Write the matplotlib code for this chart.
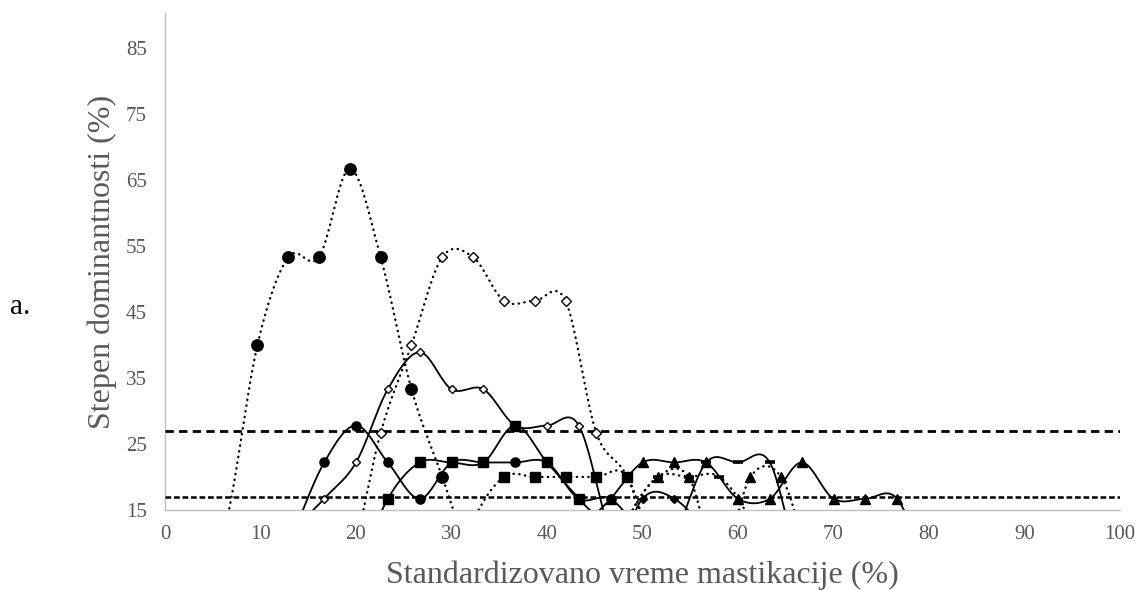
import numpy as np
import matplotlib
matplotlib.use("Agg")
import matplotlib.pyplot as plt

plt.rcParams['font.family'] = ['Liberation Serif', 'DejaVu Serif']

# ---------------- data ----------------
# dotted series (time grid step 100/31)
a_x = [3.23, 6.45, 9.68, 12.90, 16.13, 19.35, 22.58, 25.81, 29.03, 32.26, 35.48]
a_y = [0, 13.3, 40.0, 53.3, 53.3, 66.7, 53.3, 33.3, 20.0, 6.7, 0]

b_x = [16.13, 19.35, 22.58, 25.81, 29.03, 32.26, 35.48, 38.71, 41.94, 45.16, 48.39, 51.61]
b_y = [0, 6.7, 26.7, 40.0, 53.3, 53.3, 46.7, 46.7, 46.7, 26.7, 20.0, 6.7]

f_x = [29.03, 32.26, 35.48, 38.71, 41.94, 45.16, 48.39, 51.61, 54.84]
f_y = [0, 13.3, 20.0, 20.0, 20.0, 20.0, 20.0, 6.7, 0]

h_x = [45.16, 48.39, 51.61, 54.84, 58.06, 61.29, 64.52, 67.74, 70.97]
h_y = [0, 13.3, 20.0, 20.0, 6.7, 20.0, 20.0, 6.7, 0]

j_x = [45.16, 48.39, 51.61, 54.84, 58.06, 61.29, 64.52]
j_y = [0, 13.3, 20.0, 20.0, 20.0, 13.3, 0]

# solid series (time grid step 100/30)
c_x = [10.00, 13.33, 16.67, 20.00, 23.33, 26.67, 30.00, 33.33, 36.67, 40.00, 43.33, 46.67, 50.00]
c_y = [0, 11.1, 16.7, 22.2, 33.3, 38.9, 33.3, 33.3, 27.8, 27.8, 27.8, 11.1, 0]

d_x = [10.00, 13.33, 16.67, 20.00, 23.33, 26.67, 30.00, 33.33, 36.67, 40.00, 43.33, 46.67, 50.00]
d_y = [0, 11.1, 22.2, 27.8, 22.2, 16.7, 22.2, 22.2, 22.2, 22.2, 16.7, 16.7, 11.1]

e_x = [16.67, 20.00, 23.33, 26.67, 30.00, 33.33, 36.67, 40.00, 43.33, 46.67, 50.00]
e_y = [0, 5.6, 16.7, 22.2, 22.2, 22.2, 27.8, 22.2, 16.7, 11.1, 0]

g_x = [40.00, 43.33, 46.67, 50.00, 53.33, 56.67, 60.00, 63.33, 66.67, 70.00, 73.33, 76.67, 80.00, 83.33]
g_y = [0, 11.1, 16.7, 22.2, 22.2, 22.2, 16.7, 16.7, 22.2, 16.7, 16.7, 16.7, 5.6, 0]

i_x = [43.33, 46.67, 50.00, 53.33, 56.67, 60.00]
i_y = [0, 5.6, 16.7, 16.7, 11.1, 0]

k_x = [46.67, 50.00, 53.33, 56.67, 60.00, 63.33, 66.67, 70.00]
k_y = [0, 5.6, 11.1, 22.2, 22.2, 22.2, 5.6, 0]

ref_levels = [27.0, 17.0]

x_ticks = [0, 10, 20, 30, 40, 50, 60, 70, 80, 90, 100]
y_ticks = [15, 25, 35, 45, 55, 65, 75, 85]

x_label = "Standardizovano vreme mastikacije (%)"
y_label = "Stepen dominantnosti (%)"
panel_label = "a."

# ---------------- helpers ----------------
def smooth(xs, ys, n=24):
    p = np.column_stack([xs, ys]).astype(float)
    p = np.vstack([p[0], p, p[-1]])
    out = []
    t = np.linspace(0, 1, n)[:, None]
    for i in range(1, len(p) - 2):
        p0, p1, p2, p3 = p[i - 1], p[i], p[i + 1], p[i + 2]
        seg = 0.5 * (2 * p1 + (-p0 + p2) * t + (2 * p0 - 5 * p1 + 4 * p2 - p3) * t ** 2
                     + (-p0 + 3 * p1 - 3 * p2 + p3) * t ** 3)
        out.append(seg if i == 1 else seg[1:])
    s = np.vstack(out)
    return s[:, 0], s[:, 1]

fig = plt.figure(figsize=(11.41, 5.90), dpi=100)
ax = fig.add_axes([165 / 1141, 80 / 590, 955 / 1141, 497 / 590])
ax.set_xlim(0, 100)
ax.set_ylim(15, 90.3)

# reference lines
ax.axhline(ref_levels[0], color='black', lw=2.0, linestyle=(0, (3.0, 1.9)), zorder=2)
ax.axhline(ref_levels[1], color='black', lw=1.8, linestyle=(0, (2.3, 1.1)), zorder=2)

DOT = (0, (0.15, 2.3))

series = [
    # x, y, linestyle, lw, marker, ms, face
    (b_x, b_y, DOT, 1.7, 'D', 5.2, 'white'),
    (a_x, a_y, DOT, 1.7, 'o', 8.2, 'black'),
    (f_x, f_y, DOT, 1.7, 's', 7.0, 'black'),
    (h_x, h_y, DOT, 1.7, '^', 7.5, 'black'),
    (j_x, j_y, DOT, 1.7, '_', 7.5, 'black'),
    (c_x, c_y, '-', 1.3, 'D', 3.6, 'white'),
    (d_x, d_y, '-', 1.3, 'o', 6.6, 'black'),
    (e_x, e_y, '-', 1.3, 's', 7.0, 'black'),
    (g_x, g_y, '-', 1.3, '^', 7.5, 'black'),
    (i_x, i_y, '-', 1.3, 'D', 3.8, 'black'),
    (k_x, k_y, '-', 1.3, '_', 7.5, 'black'),
]

for xs, ys, ls, lw, mk, ms, fc in series:
    sx, sy = smooth(xs, ys)
    ax.plot(sx, sy, color='black', linestyle=ls, lw=lw, zorder=3,
            dash_capstyle='round', solid_capstyle='round')
    xa = np.array(xs)
    ya = np.array(ys)
    vis = ya >= 15
    mew = 2.6 if mk == '_' else 1.0
    ax.plot(xa[vis], ya[vis], linestyle='none', marker=mk, markersize=ms,
            markerfacecolor=fc, markeredgecolor='black', markeredgewidth=mew, zorder=4)

# axes styling
for side in ['top', 'right']:
    ax.spines[side].set_visible(False)
for side in ['left', 'bottom']:
    ax.spines[side].set_color('#bfbfbf')
    ax.spines[side].set_linewidth(1.0)
    ax.spines[side].set_zorder(1)

ax.set_xticks(x_ticks)
ax.set_yticks(y_ticks)
ax.tick_params(axis='both', length=0, labelsize=15, labelcolor='#595959')
ax.tick_params(axis='x', pad=11)
ax.tick_params(axis='y', pad=13)

ax.set_xlabel(x_label, fontsize=23, color='#595959')
ax.xaxis.label.set_va('center')
ax.xaxis.set_label_coords(0.5, -0.131)
ax.set_ylabel(y_label, fontsize=23, color='#595959')
ax.yaxis.label.set_va('center')
ax.yaxis.set_label_coords(-0.066, 0.5)

fig.text(20 / 1141, 1 - 307 / 590, panel_label, fontsize=21, color='black',
         ha='center', va='center')

fig.savefig('out.png', dpi=100)
